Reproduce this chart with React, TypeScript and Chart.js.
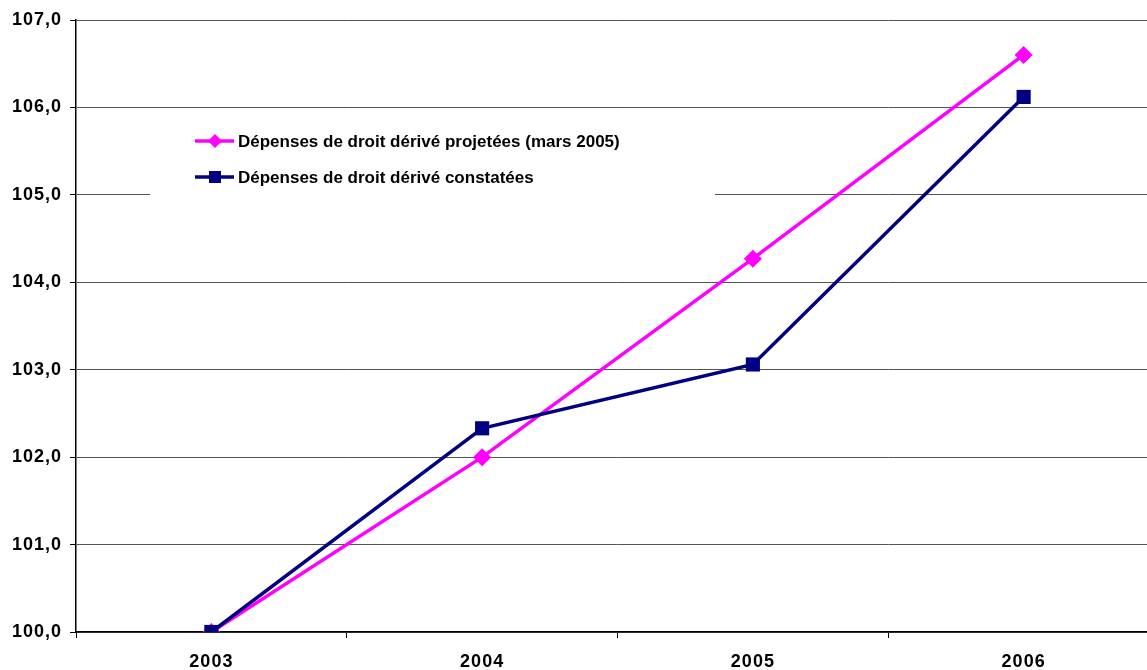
import React, { useEffect, useRef } from "react";
import { Chart, registerables } from "chart.js";

Chart.register(...registerables);

const years = ["2003", "2004", "2005", "2006"];
const projectedLabel = "Dépenses de droit dérivé projetées (mars 2005)";
const projectedValues = [100.0, 102.0, 104.27, 106.6];
const observedLabel = "Dépenses de droit dérivé constatées";
const observedValues = [100.0, 102.33, 103.06, 106.12];
const yMin = 100;
const yMax = 107;
const yStep = 1;

const FONT = "'Liberation Sans', Arial, Helvetica, sans-serif";
const MAGENTA = "#FF00FF";
const NAVY = "#000080";
const CANVAS_W = 1169;
const CANVAS_H = 670;

// Slightly spaced axis lettering
const axisLetterSpacing = {
  id: "axisLetterSpacing",
  beforeDraw(chart: any) {
    (chart.ctx as any).letterSpacing = "1px";
  },
  beforeDatasetsDraw(chart: any) {
    (chart.ctx as any).letterSpacing = "0px";
  },
};

// Legend drawn inside the plot on a white panel
const insideLegend = {
  id: "insideLegend",
  afterDraw(chart: any) {
    const ctx = chart.ctx as CanvasRenderingContext2D;
    ctx.save();
    (ctx as any).letterSpacing = "0px";
    ctx.fillStyle = "#ffffff";
    ctx.fillRect(150, 116, 565, 81);
    const items = [...chart.data.datasets].sort(
      (a: any, b: any) => a.legendIndex - b.legendIndex
    );
    items.forEach((ds: any, i: number) => {
      const y = 141 + i * 36;
      ctx.strokeStyle = ds.borderColor;
      ctx.lineWidth = 3.5;
      ctx.beginPath();
      ctx.moveTo(195, y);
      ctx.lineTo(234, y);
      ctx.stroke();
      ctx.fillStyle = ds.borderColor;
      const cx = 215;
      if (ds.pointStyle === "rectRot") {
        const r = 7;
        ctx.beginPath();
        ctx.moveTo(cx, y - r);
        ctx.lineTo(cx + r, y);
        ctx.lineTo(cx, y + r);
        ctx.lineTo(cx - r, y);
        ctx.closePath();
        ctx.fill();
      } else {
        ctx.fillRect(cx - 6, y - 6, 12, 12);
      }
      ctx.fillStyle = "#000000";
      ctx.font = `bold 17px ${FONT}`;
      ctx.textAlign = "left";
      ctx.textBaseline = "middle";
      ctx.fillText(ds.label, 238, y + 1);
    });
    ctx.restore();
  },
};

export default function App() {
  const canvasRef = useRef<HTMLCanvasElement | null>(null);

  useEffect(() => {
    const canvas = canvasRef.current;
    if (!canvas) return;
    const chart = new Chart(canvas, {
      type: "line",
      data: {
        labels: years,
        datasets: [
          {
            label: projectedLabel,
            data: projectedValues,
            borderColor: MAGENTA,
            backgroundColor: MAGENTA,
            borderWidth: 3.5,
            pointStyle: "rectRot",
            pointRadius: 9,
            pointBorderWidth: 0,
            pointHoverRadius: 9,
            tension: 0,
            order: 1,
            legendIndex: 0,
          } as any,
          {
            label: observedLabel,
            data: observedValues,
            borderColor: NAVY,
            backgroundColor: NAVY,
            borderWidth: 3.5,
            pointStyle: "rect",
            pointRadius: 10,
            pointBorderWidth: 0,
            pointHoverRadius: 10,
            tension: 0,
            order: 0,
            legendIndex: 1,
          } as any,
        ],
      },
      options: {
        responsive: false,
        maintainAspectRatio: false,
        animation: false,
        devicePixelRatio: 1,
        layout: { padding: { top: 20, right: 0, left: 0, bottom: 0 } },
        plugins: {
          legend: { display: false },
          tooltip: { enabled: false },
        },
        scales: {
          x: {
            type: "category",
            offset: true,
            grid: {
              offset: true,
              drawOnChartArea: false,
              drawTicks: true,
              tickLength: 6,
              tickColor: "#000000",
            },
            border: { color: "#000000", width: 1.5 },
            ticks: {
              color: "#000000",
              font: { family: FONT, size: 18, weight: "bold" },
              padding: 13,
              maxRotation: 0,
            },
            afterFit: (scale: any) => {
              scale.height = 38;
            },
          },
          y: {
            min: yMin,
            max: yMax,
            grid: {
              color: "#555555",
              lineWidth: 1,
              tickLength: 6,
              tickColor: "#000000",
            },
            border: { color: "#000000", width: 1.5 },
            ticks: {
              stepSize: yStep,
              color: "#000000",
              font: { family: FONT, size: 18, weight: "bold" },
              padding: 8,
              callback: (v: any) => Number(v).toFixed(1).replace(".", ","),
            },
            afterFit: (scale: any) => {
              scale.width = 76;
            },
          },
        },
      },
      plugins: [axisLetterSpacing, insideLegend],
    });
    return () => chart.destroy();
  }, []);

  return (
    <div
      style={{
        position: "fixed",
        left: 0,
        top: 0,
        width: 1147,
        height: 670,
        overflow: "hidden",
        background: "#ffffff",
      }}
    >
      <div style={{ position: "absolute", left: 0, top: 0, width: CANVAS_W, height: CANVAS_H }}>
        <canvas
          ref={canvasRef}
          width={CANVAS_W}
          height={CANVAS_H}
          style={{ width: CANVAS_W, height: CANVAS_H, display: "block" }}
        />
      </div>
    </div>
  );
}
